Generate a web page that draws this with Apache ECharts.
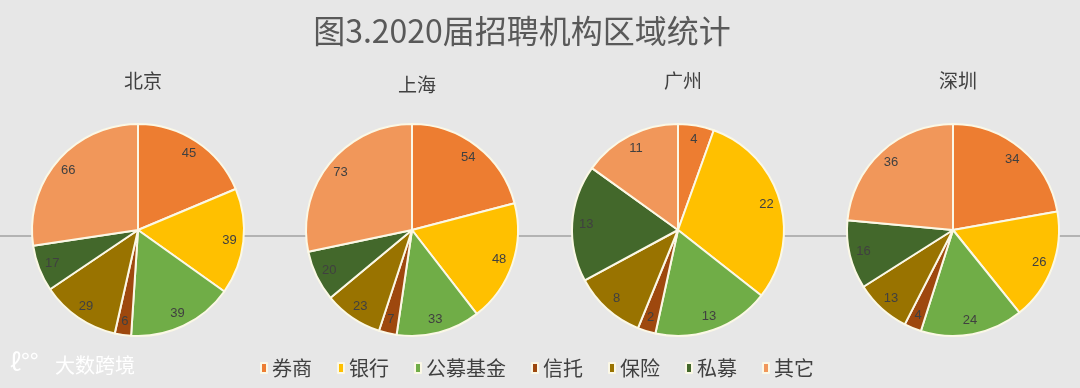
<!DOCTYPE html>
<html><head><meta charset="utf-8">
<script src="https://cdn.jsdelivr.net/npm/echarts@6/dist/echarts.min.js"></script>
<style>html,body{margin:0;padding:0;background:#e7e7e7}#c{width:1080px;height:388px}</style>
</head><body><div id="c"></div>
<script>
var categories = ['券商','银行','公募基金','信托','保险','私募','其它'];
var cities = ['北京','上海','广州','深圳'];
var beijing = [45,39,39,6,29,17,66];
var shanghai = [54,48,33,7,23,20,73];
var guangzhou = [4,22,13,2,8,13,11];
var shenzhen = [34,26,24,4,13,16,36];
var cityValues = [beijing, shanghai, guangzhou, shenzhen];
var colors = ['#ED7D31','#FFC000','#70AD47','#9E480E','#997300','#43682B','#F1975A'];
var centersX = [138, 412, 678, 953];
var centerY = 230;
var R = 106;
var font = '"Noto Sans CJK SC","Noto Sans",sans-serif';

var series = [];
cityValues.forEach(function(vals, i){
  var data = vals.map(function(v,k){return {name:categories[k], value:v};});
  series.push({
    type:'pie', center:[centersX[i], centerY], radius:R, startAngle:90, clockwise:true,
    avoidLabelOverlap:false, silent:true,
    label:{show:false}, labelLine:{show:false},
    itemStyle:{borderColor:'#fbf8e6', borderWidth:2},
    data:data, animation:false
  });
  series.push({
    type:'pie', center:[centersX[i], centerY], radius:[R*0.68, R], startAngle:90, clockwise:true,
    avoidLabelOverlap:false, silent:true, z:3,
    itemStyle:{color:'rgba(0,0,0,0)', borderWidth:0},
    label:{show:true, position:'inside', color:'#404040', fontSize:13, fontFamily:'Arial, "Liberation Sans", sans-serif', formatter:'{c}'},
    labelLine:{show:false}, legendHoverLink:false,
    data:data.map(function(d){return {name:d.name, value:d.value, itemStyle:{color:'rgba(0,0,0,0)'}};}), animation:false
  });
});

var titles = [{text:'图3.2020届招聘机构区域统计', left:517, top:10, textAlign:'center',
  textStyle:{fontSize:32, fontWeight:'normal', color:'#595959', fontFamily:font}}];
cities.forEach(function(c,i){
  titles.push({text:c, left:centersX[i], top: i===1?70:66, textAlign:'center',
    textStyle:{fontSize:19, fontWeight:'normal', color:'#404040', fontFamily:font}});
});

var chart = echarts.init(document.getElementById('c'));
chart.setOption({
  backgroundColor:'#e7e7e7',
  color:colors,
  title:titles,
  legend:{data:categories, left:255, top:353, itemWidth:6, itemHeight:10, itemGap:25,
    icon:'rect', textStyle:{fontSize:20, color:'#404040', fontFamily:font}, selectedMode:false},
  graphic:[
    {type:'line', z:0, shape:{x1:0,y1:236,x2:1080,y2:236}, style:{stroke:'#b3b3b3', lineWidth:2}},
    {type:'text', z:10, left:55, top:355, style:{text:'大数跨境', fontSize:20, fill:'#ffffff', fontFamily:font,
      shadowColor:'rgba(0,0,0,0.35)', shadowBlur:3}},
    {type:'text', z:10, left:10, top:350, style:{text:'ℓ°°', fontSize:24, fill:'#ffffff', fontFamily:font,
      shadowColor:'rgba(0,0,0,0.35)', shadowBlur:3}}
  ],
  series:series
});
</script></body></html>
